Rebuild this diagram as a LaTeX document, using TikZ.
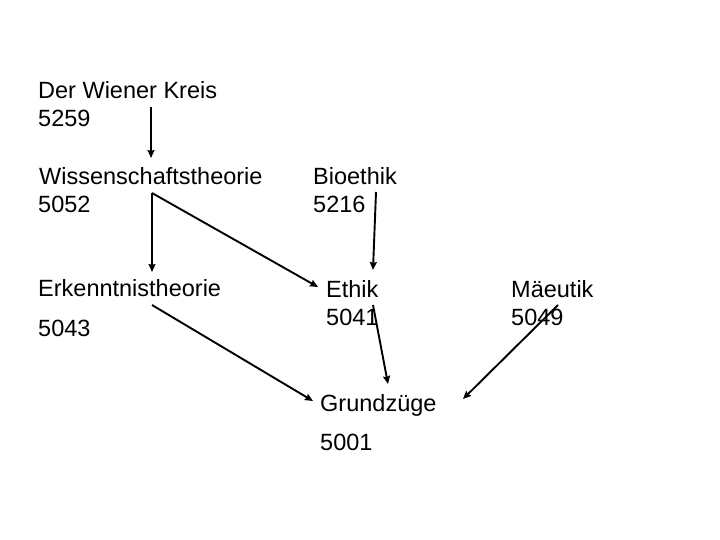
\documentclass[tikz,border=0pt]{standalone}
\usepackage{fontspec}
\setmainfont{Liberation Sans}
\usetikzlibrary{arrows.meta}
\begin{document}
\begin{tikzpicture}[x=1pt,y=-1pt,
  lbl/.style={anchor=base west,inner sep=0pt,font=\fontsize{23.5}{28}\selectfont},
  conn/.style={line width=1.9pt,-{Stealth[length=8pt,width=7pt,inset=1pt]}}]
\useasboundingbox (0,0) rectangle (720,540);
% labels
\node[lbl] (wk)  at (38,99)  {Der Wiener Kreis};
\node[lbl] (wkn) at (38,127) {5259};
\node[lbl] (wt)  at (39,185) {Wissenschaftstheorie};
\node[lbl] (wtn) at (38,212) {5052};
\node[lbl] (bi)  at (313,185) {Bioethik};
\node[lbl] (bin) at (313,212) {5216};
\node[lbl] (et)  at (38,296) {Erkenntnistheorie};
\node[lbl] (etn) at (38,336) {5043};
\node[lbl] (eth) at (326,297) {Ethik};
\node[lbl] (ethn) at (326,325) {5041};
\node[lbl] (ma)  at (511,297) {Mäeutik};
\node[lbl] (man) at (511,325) {5049};
\node[lbl] (gr)  at (320,411) {Grundzüge};
\node[lbl] (grn) at (320,450) {5001};
% connector ends
\coordinate (wk-o)  at (151,107);
\coordinate (wt-i)  at (151,158);
\coordinate (wt-o)  at (152,193);
\coordinate (et-i)  at (152,272);
\coordinate (eth-i) at (318,287);
\coordinate (bi-o)  at (376,192);
\coordinate (eth-t) at (373,270);
\coordinate (eth-o) at (373,305);
\coordinate (gr-t)  at (388,384);
\coordinate (et-o)  at (152,305);
\coordinate (gr-l)  at (313,401);
\coordinate (ma-o)  at (558,305);
\coordinate (gr-r)  at (463,399);
% connectors
\draw[conn] (wk-o) -- (wt-i);
\draw[conn] (wt-o) -- (et-i);
\draw[conn] (wt-o) -- (eth-i);
\draw[conn] (bi-o) -- (eth-t);
\draw[conn] (eth-o) -- (gr-t);
\draw[conn] (et-o) -- (gr-l);
\draw[conn] (ma-o) -- (gr-r);
\end{tikzpicture}
\end{document}
